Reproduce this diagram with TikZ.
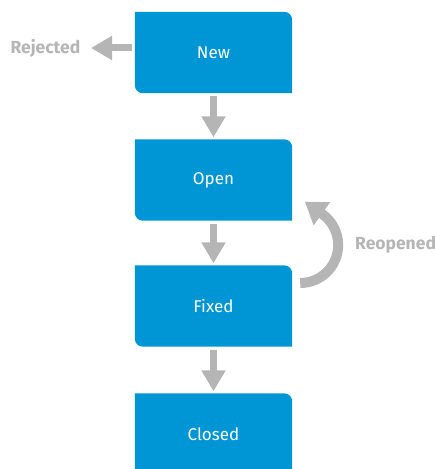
\documentclass[tikz,border=0pt]{standalone}
\usepackage{fontspec}
\setmainfont{Fira Sans}
\usetikzlibrary{arrows.meta,backgrounds,calc}
\definecolor{hpblue}{HTML}{0096D6}
\definecolor{arrgray}{HTML}{B5B5B5}
\begin{document}
\begin{tikzpicture}[x=1pt,y=1pt,
  box/.style={minimum width=157pt,minimum height=81pt,inner sep=0pt,text=white,font=\fontsize{17}{19}\selectfont},
  lbl/.style={inner sep=0pt,text=arrgray,font=\fontsize{17.5}{19}\selectfont\bfseries},
  arr/.style={draw=arrgray,line width=7pt,-{Triangle[length=21pt,width=23pt]}},
  carr/.style={draw=arrgray,line width=10pt,-{Triangle[length=21pt,width=27pt]}}]
\useasboundingbox (0,0) rectangle (435,469);
\clip (0,0) rectangle (435,469);
\node[box] (new) at (213.5,416.5) {New};
\node[box] (open) at (213.5,289) {Open};
\node[box] (fixed) at (213.5,163) {Fixed};
\node[box] (closed) at (213.5,35) {Closed};
\begin{scope}[on background layer]
\foreach \n in {new,open,fixed,closed}{
  \fill[hpblue] (\n.north west) -- ($(\n.north east)+(-8,0)$) arc[start angle=90,end angle=0,radius=8pt]
    -- (\n.south east) -- ($(\n.south west)+(8,0)$) arc[start angle=270,end angle=180,radius=8pt] -- cycle;
}
\end{scope}
\node[lbl,anchor=east] (rej) at (80.5,421) {Rejected};
\node[lbl,anchor=west] (reo) at (355,224) {Reopened};
\draw[arr] ([shift={(-3,4.5)}]new.west) -- ([xshift=10.5pt]rej.east);
\draw[arr] ([yshift=-3pt]new.south) -- ([yshift=2pt]open.north);
\draw[arr] ([yshift=-3pt]open.south) -- ([yshift=2pt]fixed.north);
\draw[arr] ([yshift=-3pt]fixed.south) -- ([yshift=2pt]closed.north);
\coordinate (ro1) at ([shift={(8,23)}]fixed.east);
\coordinate (ro2) at ([shift={(12.6,19.1)}]open.south east);
\draw[carr] (ro1) arc[start angle=270,end angle=415,radius=38pt] -- (ro2);
\end{tikzpicture}
\end{document}
